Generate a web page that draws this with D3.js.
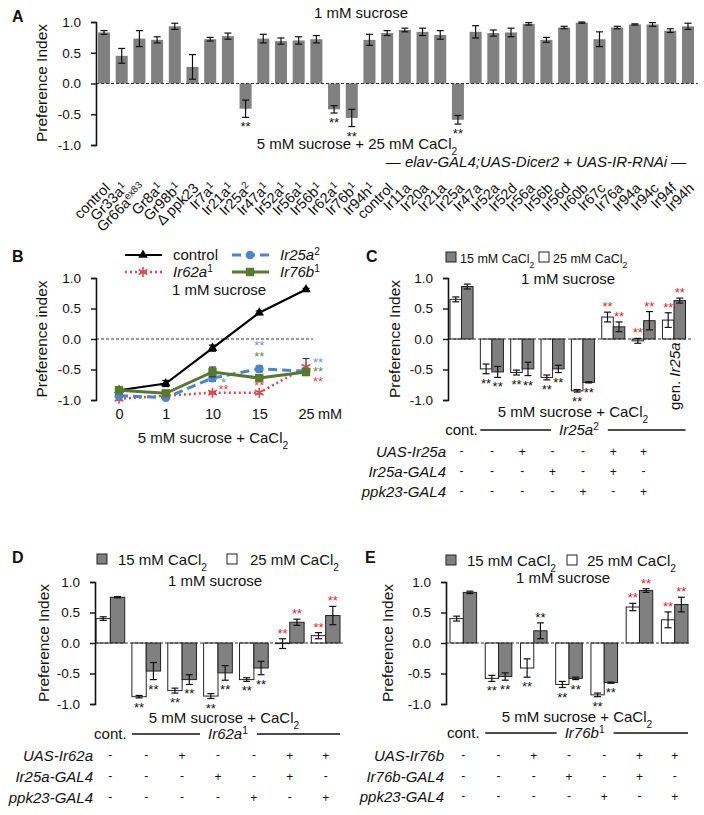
<!DOCTYPE html>
<html lang="en">
<head>
  <meta charset="UTF-8" />
  <title>Preference Index panels A-E</title>
  <style>
    body { margin: 0; background: #fff; }
    svg { display: block; }
  </style>
</head>
<body>
  <div id="chart"></div>
  <script src="https://d3js.org/d3.v7.min.js"></script>
  <script>
    // ---------- panel A ----------
    const aLabels = ["control", "Gr33a^1", "Gr66a^ex83", "Gr8a^1", "Gr98b^1", "Δ ppk23", "Ir7a^1", "Ir21a^1",
      "Ir25a^2", "Ir47a^1", "Ir52a^1", "Ir56a^1", "Ir56b^1", "Ir62a^1", "Ir76b^1", "Ir94h^1",
      "control", "Ir11a", "Ir20a", "Ir21a", "Ir25a", "Ir47a", "Ir52a", "Ir52d", "Ir56a", "Ir56b",
      "Ir56d", "Ir60b", "Ir67c", "Ir76a", "Ir94a", "Ir94c", "Ir94f", "Ir94h"];
    const aValues = [0.83, 0.45, 0.73, 0.71, 0.93, 0.27, 0.72, 0.77, -0.41, 0.73, 0.69, 0.70, 0.72, -0.42, -0.56, 0.71,
      0.82, 0.87, 0.84, 0.79, -0.59, 0.84, 0.82, 0.83, 0.97, 0.71, 0.91, 0.99, 0.72, 0.91, 0.96, 0.96, 0.86, 0.93];
    const aErrors = [0.03, 0.12, 0.13, 0.05, 0.05, 0.20, 0.03, 0.05, 0.14, 0.07, 0.05, 0.06, 0.06, 0.06, 0.14, 0.09,
      0.04, 0.03, 0.06, 0.07, 0.07, 0.10, 0.05, 0.07, 0.02, 0.04, 0.02, 0.01, 0.12, 0.02, 0.01, 0.03, 0.03, 0.05];
    const aStars = [8, 13, 14, 20];

    // ---------- panel B ----------
    const bDoses = ["0", "1", "10", "15", "25"];
    const bNames = ["control", "Ir25a^2", "Ir62a^1", "Ir76b^1"];
    const bControl = [-0.84, -0.73, -0.15, 0.43, 0.81];
    const bControlErr = [0.03, 0.05, 0.05, 0.03, 0.02];
    const bIr25a = [-0.93, -0.96, -0.64, -0.49, -0.53];
    const bIr25aErr = [0.03, 0.03, 0.05, 0.05, 0.04];
    const bIr62a = [-0.98, -0.93, -0.88, -0.88, -0.46];
    const bIr62aErr = [0.02, 0.02, 0.02, 0.02, 0.14];
    const bIr76b = [-0.84, -0.89, -0.54, -0.64, -0.54];
    const bIr76bErr = [0.04, 0.03, 0.08, 0.05, 0.05];
    // dose, series, mark, level
    const bStars = [["10", "Ir25a^2", "*", -0.67], ["10", "Ir62a^1", "**", -0.79],
      ["15", "Ir25a^2", "**", -0.07], ["15", "Ir76b^1", "**", -0.25], ["15", "Ir62a^1", "**", -0.72],
      ["25", "Ir25a^2", "**", -0.35], ["25", "Ir76b^1", "**", -0.49], ["25", "Ir62a^1", "**", -0.66]];

    // ---------- panel C ----------
    const cWhite = [0.65, -0.49, -0.55, -0.63, -0.85, 0.36, -0.03, 0.31];
    const cWhiteErr = [0.04, 0.08, 0.04, 0.04, 0.02, 0.08, 0.04, 0.12];
    const cGray = [0.86, -0.54, -0.49, -0.49, -0.71, 0.20, 0.30, 0.63];
    const cGrayErr = [0.04, 0.09, 0.11, 0.06, 0.01, 0.08, 0.15, 0.04];
    const cWhiteStars = ["", "k", "k", "k", "k", "r", "r", "r"];
    const cGrayStars = ["", "k", "k", "k", "k", "r", "r", "r"];
    const cRows = ["UAS-Ir25a", "Ir25a-GAL4", "ppk23-GAL4"];
    const cMarks = [["-", "-", "+", "-", "-", "+", "+"],
                    ["-", "-", "-", "+", "-", "+", "-"],
                    ["-", "-", "-", "-", "+", "-", "+"]];

    // ---------- panel D ----------
    const dWhite = [0.40, -0.88, -0.78, -0.87, -0.60, -0.01, 0.12];
    const dWhiteErr = [0.03, 0.02, 0.04, 0.04, 0.03, 0.08, 0.05];
    const dGray = [0.75, -0.46, -0.60, -0.49, -0.41, 0.34, 0.45];
    const dGrayErr = [0.01, 0.14, 0.08, 0.12, 0.11, 0.05, 0.15];
    const dWhiteStars = ["", "k", "k", "k", "k", "r", "r"];
    const dGrayStars = ["", "k", "k", "k", "k", "r", "r"];
    const dRows = ["UAS-Ir62a", "Ir25a-GAL4", "ppk23-GAL4"];
    const dMarks = [["-", "-", "+", "-", "-", "+", "+"],
                    ["-", "-", "-", "+", "-", "+", "-"],
                    ["-", "-", "-", "-", "+", "-", "+"]];

    // ---------- panel E ----------
    const eWhite = [0.40, -0.58, -0.41, -0.68, -0.85, 0.59, 0.38];
    const eWhiteErr = [0.04, 0.05, 0.15, 0.05, 0.03, 0.06, 0.13];
    const eGray = [0.83, -0.55, 0.20, -0.58, -0.65, 0.86, 0.63];
    const eGrayErr = [0.02, 0.06, 0.13, 0.02, 0.01, 0.03, 0.12];
    const eWhiteStars = ["", "k", "k", "k", "k", "r", "r"];
    const eGrayStars = ["", "k", "k", "k", "k", "r", "r"];
    const eRows = ["UAS-Ir76b", "Ir76b-GAL4", "ppk23-GAL4"];
    const eMarks = [["-", "-", "+", "-", "-", "+", "+"],
                    ["-", "-", "-", "+", "-", "+", "-"],
                    ["-", "-", "-", "-", "+", "-", "+"]];

    const yTicks = [1, 0.5, 0, -0.5, -1];

    const FONT = '"Liberation Sans", Arial, Helvetica, sans-serif';
    const RED = "#ec1c24";
    const TXT = "#111";

    const svg = d3.select("#chart").append("svg")
      .attr("width", 704).attr("height", 815)
      .attr("font-family", FONT).attr("fill", TXT);
    svg.append("rect").attr("width", 704).attr("height", 815).attr("fill", "#fff");

    // text with optional trailing ^sup or _sub
    function rich(parent, str, italic) {
      const t = parent.append("text");
      const m = str.match(/^(.*?)(?:([\^_])(.*))?$/);
      t.append("tspan").text(m[1]).attr("font-style", italic ? "italic" : null);
      if (m[2]) {
        t.append("tspan").text(m[3])
          .attr("baseline-shift", m[2] === "^" ? "super" : "sub")
          .attr("font-size", "0.68em");
      }
      return t;
    }

    function yAxis(g, y, x) {
      g.append("g")
        .attr("transform", `translate(${x},0)`)
        .call(d3.axisLeft(y).tickValues(yTicks).tickFormat(d => d.toFixed(1)).tickSize(5).tickPadding(10))
        .attr("font-family", FONT).attr("font-size", 13.5)
        .call(a => a.select(".domain").attr("stroke", "#111").attr("stroke-width", 1.6))
        .call(a => a.selectAll(".tick line").attr("stroke", "#111").attr("stroke-width", 1.4))
        .call(a => a.selectAll(".tick text").attr("fill", TXT));
    }

    function yTitle(g, text, x, yc) {
      g.append("text")
        .attr("transform", `translate(${x},${yc}) rotate(-90)`)
        .attr("text-anchor", "middle").attr("font-size", 15.5)
        .text(text);
    }

    function panelLetter(letter, x, y) {
      svg.append("text").attr("x", x).attr("y", y)
        .attr("font-size", 16).attr("font-weight", "bold").text(letter);
    }

    function errorBars(g, rows, cx, y, color) {
      const eb = g.append("g").attr("stroke", color || "#111").attr("stroke-width", 1.2);
      rows.forEach(d => {
        const x = cx(d), y1 = y(d.v - d.e), y2 = y(d.v + d.e);
        eb.append("line").attr("x1", x).attr("x2", x).attr("y1", y1).attr("y2", y2);
        eb.append("line").attr("x1", x - 3.5).attr("x2", x + 3.5).attr("y1", y1).attr("y2", y1);
        eb.append("line").attr("x1", x - 3.5).attr("x2", x + 3.5).attr("y1", y2).attr("y2", y2);
      });
    }

    function stars(g, rows, cx, y) {
      rows.filter(d => d.s).forEach(d => {
        const above = d.s === "r" || d.v > 0;
        const yy = above ? y(Math.max(d.v + d.e, 0)) - 1 : y(Math.min(d.v - d.e, 0)) + 14;
        g.append("text").attr("x", cx(d)).attr("y", yy)
          .attr("text-anchor", "middle").attr("font-size", 13)
          .attr("fill", d.s === "r" ? RED : TXT).text("**");
      });
    }

    // ================= PANEL A =================
    (function () {
      const g = svg.append("g");
      const y = d3.scaleLinear().domain([-1, 1]).range([145, 22]);
      const x = d3.scaleBand().domain(d3.range(aValues.length)).range([98, 694]).paddingInner(0.32);
      const rows = aValues.map((v, i) => ({ i, v, e: aErrors[i], s: aStars.includes(i) ? "k" : "" }));
      const cx = d => x(d.i) + x.bandwidth() / 2;

      g.selectAll("rect").data(rows).join("rect")
        .attr("x", d => x(d.i)).attr("width", x.bandwidth())
        .attr("y", d => y(Math.max(0, d.v))).attr("height", d => Math.abs(y(d.v) - y(0)))
        .attr("fill", "#808080");
      g.append("line").attr("x1", 96).attr("x2", 698).attr("y1", y(0)).attr("y2", y(0))
        .attr("stroke", "#333").attr("stroke-width", 1.2).attr("stroke-dasharray", "3,2");
      errorBars(g, rows, cx, y);
      stars(g, rows, cx, y);
      yAxis(g, y, 96);
      yTitle(g, "Preference Index", 47, 83);
      panelLetter("A", 12, 22);

      g.append("text").attr("x", 361).attr("y", 18).attr("text-anchor", "middle")
        .attr("font-size", 15).text("1 mM sucrose");
      rich(g, "5 mM sucrose + 25 mM CaCl_2").attr("x", 357).attr("y", 149)
        .attr("text-anchor", "middle").attr("font-size", 15);

      const el = g.append("text").attr("x", 536).attr("y", 167).attr("text-anchor", "middle").attr("font-size", 15);
      el.append("tspan").text("— ");
      el.append("tspan").attr("font-style", "italic").text("elav-GAL4;UAS-Dicer2 + UAS-IR-RNAi");
      el.append("tspan").text(" —");

      aLabels.forEach((lab, i) => {
        rich(g, lab).attr("transform", `translate(${x(i) + x.bandwidth() / 2 + 7},${189}) rotate(-45)`)
          .attr("text-anchor", "end").attr("font-size", 14.5);
      });
    })();

    // ================= PANEL B =================
    (function () {
      const g = svg.append("g");
      const y = d3.scaleLinear().domain([-1, 1]).range([400, 278]);
      const x = d3.scalePoint().domain(bDoses).range([119, 306]);
      const series = [
        { name: "control", v: bControl, e: bControlErr, color: "#000", dash: null, w: 2.2, sym: d3.symbolTriangle, size: 40 },
        { name: "Ir62a^1", v: bIr62a, e: bIr62aErr, color: "#e0494d", dash: "2,3", w: 2.6, sym: d3.symbolAsterisk, size: 70, stroke: true },
        { name: "Ir25a^2", v: bIr25a, e: bIr25aErr, color: "#4a86cf", dash: "9,5", w: 3, sym: d3.symbolCircle, size: 60 },
        { name: "Ir76b^1", v: bIr76b, e: bIr76bErr, color: "#56792a", dash: null, w: 3, sym: d3.symbolSquare, size: 70 }
      ];
      const starColor = { "Ir25a^2": "#5b9bd5", "Ir62a^1": "#e0494d", "Ir76b^1": "#6f8a3a" };

      g.append("line").attr("x1", 96).attr("x2", 313).attr("y1", y(0)).attr("y2", y(0))
        .attr("stroke", "#333").attr("stroke-width", 1.1).attr("stroke-dasharray", "3,2");

      const marker = (sel, s) => sel.attr("d", d3.symbol(s.sym, s.size))
        .attr("fill", s.stroke ? "none" : s.color)
        .attr("stroke", s.color).attr("stroke-width", s.stroke ? 1.6 : 0);

      series.forEach(s => {
        const line = d3.line().x((d, i) => x(bDoses[i])).y(d => y(d));
        g.append("path").attr("d", line(s.v)).attr("fill", "none")
          .attr("stroke", s.color).attr("stroke-width", s.w).attr("stroke-dasharray", s.dash);
        const rows = s.v.map((v, i) => ({ i, v, e: s.e[i] }));
        errorBars(g, rows, d => x(bDoses[d.i]), y, s.name === "control" ? "#000" : "#333");
        rows.forEach(d => {
          g.append("path").attr("transform", `translate(${x(bDoses[d.i])},${y(d.v)})`).call(marker, s);
        });
      });

      bStars.forEach(([dose, name, mark, lvl]) => {
        const off = dose === "25" ? 12 : dose === "10" ? 11 : 0;
        g.append("text").attr("x", x(dose) + off).attr("y", y(lvl) + 7)
          .attr("text-anchor", "middle").attr("font-size", 13)
          .attr("fill", starColor[name]).text(mark);
      });

      yAxis(g, y, 96);
      yTitle(g, "Preference index", 47, 339);
      panelLetter("B", 12, 262);

      const xa = g.append("g").attr("transform", "translate(0,406)")
        .call(d3.axisBottom(x).tickSize(0).tickPadding(3))
        .attr("font-family", FONT).attr("font-size", 14.5);
      xa.select(".domain").remove();
      xa.selectAll("text").attr("fill", TXT);
      g.append("text").attr("x", 318).attr("y", 419).attr("font-size", 14.5).text("mM");
      rich(g, "5 mM sucrose + CaCl_2").attr("x", 213).attr("y", 443)
        .attr("text-anchor", "middle").attr("font-size", 15);
      g.append("text").attr("x", 219).attr("y", 295).attr("text-anchor", "middle")
        .attr("font-size", 15).text("1 mM sucrose");

      // legend
      bNames.forEach((name, k) => {
        const s = series.find(d => d.name === name);
        const lx = k % 2 === 0 ? 125 : 232;
        const ly = k < 2 ? 255 : 272;
        g.append("line").attr("x1", lx).attr("x2", lx + 37).attr("y1", ly).attr("y2", ly)
          .attr("stroke", s.color).attr("stroke-width", s.w).attr("stroke-dasharray", s.dash);
        g.append("path").attr("transform", `translate(${lx + 18},${ly})`).call(marker, s);
        rich(g, name, name !== "control").attr("x", lx + 48).attr("y", ly + 5).attr("font-size", 15);
      });
    })();

    // ================= PANELS C, D, E =================
    function groupedPanel(p) {
      const g = svg.append("g");
      const n = p.white.length;
      const y = d3.scaleLinear().domain([-1, 1]).range([p.yBottom, p.yTop]);
      const x0 = d3.scaleBand().domain(d3.range(n)).range(p.xRange).paddingInner(p.pad);
      const x1 = d3.scaleBand().domain(["w", "g"]).range([0, x0.bandwidth()]);
      const rows = [];
      p.white.forEach((v, i) => rows.push({ i, k: "w", v, e: p.whiteErr[i], s: p.whiteStars[i] }));
      p.gray.forEach((v, i) => rows.push({ i, k: "g", v, e: p.grayErr[i], s: p.grayStars[i] }));
      const cx = d => x0(d.i) + x1(d.k) + x1.bandwidth() / 2;

      g.selectAll("rect").data(rows).join("rect")
        .attr("x", d => x0(d.i) + x1(d.k)).attr("width", x1.bandwidth())
        .attr("y", d => y(Math.max(0, d.v))).attr("height", d => Math.abs(y(d.v) - y(0)))
        .attr("fill", d => d.k === "w" ? "#fff" : "#808080")
        .attr("stroke", "#222").attr("stroke-width", 1);
      g.append("line").attr("x1", p.axisX).attr("x2", p.zeroEnd).attr("y1", y(0)).attr("y2", y(0))
        .attr("stroke", "#333").attr("stroke-width", 1.1).attr("stroke-dasharray", "3,2");
      errorBars(g, rows, cx, y);
      stars(g, rows, cx, y);
      yAxis(g, y, p.axisX);
      yTitle(g, "Preference Index", p.titleX, y(0));
      panelLetter(p.letter, p.letterX, p.letterY);

      // legend
      const [s1, t1, s2, t2] = p.legendX;
      g.append("rect").attr("x", s1).attr("y", p.legendY - 11).attr("width", 10).attr("height", 10)
        .attr("fill", "#808080").attr("stroke", "#222");
      rich(g, "15 mM CaCl_2").attr("x", t1).attr("y", p.legendY).attr("font-size", p.legendSize);
      g.append("rect").attr("x", s2).attr("y", p.legendY - 11).attr("width", 10).attr("height", 10)
        .attr("fill", "#fff").attr("stroke", "#222");
      rich(g, "25 mM CaCl_2").attr("x", t2).attr("y", p.legendY).attr("font-size", p.legendSize);

      g.append("text").attr("x", p.sucroseX).attr("y", p.sucroseY).attr("text-anchor", "middle")
        .attr("font-size", 15).text("1 mM sucrose");
      rich(g, "5 mM sucrose + CaCl_2").attr("x", p.condX).attr("y", p.condY)
        .attr("text-anchor", "middle").attr("font-size", 15);

      // cont. —— gene ——
      const gy = p.geneY;
      g.append("text").attr("x", x0(0) + x0.bandwidth() / 2).attr("y", gy)
        .attr("text-anchor", "middle").attr("font-size", 15).text("cont.");
      const gx0 = x0(1), gx1 = x0(n - 1) + x0.bandwidth();
      const mid = (gx0 + gx1) / 2 - p.geneShift;
      const gene = rich(g, p.gene, true).attr("x", mid).attr("y", gy)
        .attr("text-anchor", "middle").attr("font-size", 15);
      const w = gene.node().getComputedTextLength();
      [[gx0, mid - w / 2 - 8], [mid + w / 2 + 9, gx1]].forEach(([a, b]) => {
        g.append("line").attr("x1", a).attr("x2", b).attr("y1", gy - 5).attr("y2", gy - 5)
          .attr("stroke", "#111").attr("stroke-width", 1.5);
      });

      // genotype table
      p.rows.forEach((name, r) => {
        const ty = p.tableY[r];
        g.append("text").attr("x", p.axisX - 2).attr("y", ty).attr("text-anchor", "end")
          .attr("font-style", "italic").attr("font-size", 15).text(name);
        p.marks[r].forEach((m, i) => {
          g.append("text").attr("x", x0(i) + x0.bandwidth() / 2).attr("y", ty - (m === "+" ? 1 : 2))
            .attr("text-anchor", "middle").attr("font-size", 12).text(m);
        });
      });
      return { g, x0, y };
    }

    const C = groupedPanel({
      letter: "C", letterX: 366, letterY: 262,
      white: cWhite, whiteErr: cWhiteErr, gray: cGray, grayErr: cGrayErr,
      whiteStars: cWhiteStars, grayStars: cGrayStars,
      yBottom: 400, yTop: 278, xRange: [450, 685.5], pad: 0.24, axisX: 448, zeroEnd: 692,
      titleX: 400, legendX: [446, 460, 539, 553], legendY: 263, legendSize: 12.5,
      sucroseX: 568, sucroseY: 284, condX: 573, condY: 417,
      gene: "Ir25a^2", geneY: 435, geneShift: 4,
      rows: cRows, marks: cMarks, tableY: [457, 477, 497]
    });
    // genomic rescue label
    const genT = C.g.append("text")
      .attr("transform", `translate(${C.x0(7) + C.x0.bandwidth() / 2 + 6},410) rotate(-90)`)
      .attr("font-size", 15);
    genT.append("tspan").text("gen. ");
    genT.append("tspan").attr("font-style", "italic").text("Ir25a");

    groupedPanel({
      letter: "D", letterX: 12, letterY: 563,
      white: dWhite, whiteErr: dWhiteErr, gray: dGray, grayErr: dGrayErr,
      whiteStars: dWhiteStars, grayStars: dGrayStars,
      yBottom: 704, yTop: 582, xRange: [96, 340], pad: 0.2, axisX: 95, zeroEnd: 343,
      titleX: 49, legendX: [97, 118, 227, 250], legendY: 565, legendSize: 15,
      sucroseX: 215, sucroseY: 586, condX: 224, condY: 723,
      gene: "Ir62a^1", geneY: 739, geneShift: 8,
      rows: dRows, marks: dMarks, tableY: [761, 782, 803]
    });

    groupedPanel({
      letter: "E", letterX: 365, letterY: 563,
      white: eWhite, whiteErr: eWhiteErr, gray: eGray, grayErr: eGrayErr,
      whiteStars: eWhiteStars, grayStars: eGrayStars,
      yBottom: 704, yTop: 582, xRange: [450, 688], pad: 0.245, axisX: 446, zeroEnd: 690,
      titleX: 393, legendX: [446, 467, 567, 587], legendY: 566, legendSize: 15,
      sucroseX: 563, sucroseY: 583, condX: 577, condY: 722,
      gene: "Ir76b^1", geneY: 738, geneShift: 2,
      rows: eRows, marks: eMarks, tableY: [761, 782, 802]
    });
  </script>
</body>
</html>
